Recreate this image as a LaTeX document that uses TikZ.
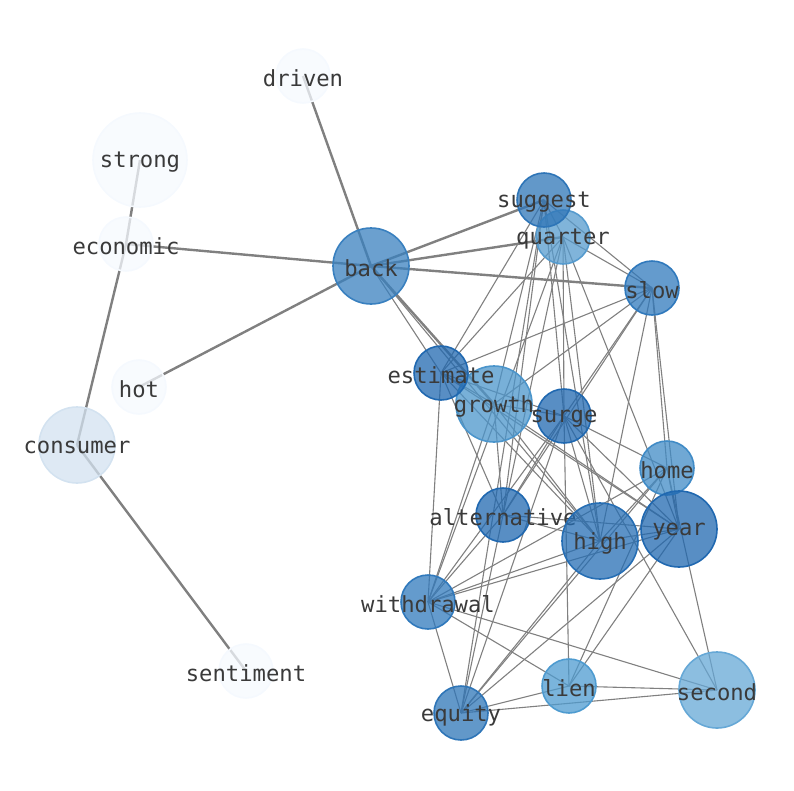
\documentclass[tikz,border=0pt]{standalone}
\usepackage{fontspec}
\newfontfamily\monofont{DejaVu Sans Mono}
\pgfdeclarelayer{bg}
\pgfsetlayers{bg,main}
\definecolor{txt}{RGB}{58,58,58}
\definecolor{edgec}{RGB}{128,128,128}
\definecolor{cpale}{RGB}{245,249,254}
\definecolor{cconsumer}{RGB}{211,226,240}
\definecolor{cback}{RGB}{57,128,191}
\definecolor{cdark}{RGB}{32,104,176}
\definecolor{csuggest}{RGB}{46,117,183}
\definecolor{cslow}{RGB}{48,121,188}
\definecolor{chigh}{RGB}{38,110,180}
\definecolor{chome}{RGB}{64,139,198}
\definecolor{cquarter}{RGB}{86,155,206}
\definecolor{cgrowth}{RGB}{75,149,203}
\definecolor{clien}{RGB}{78,155,208}
\definecolor{csecond}{RGB}{102,168,214}
\tikzset{
  wnode/.style n args={3}{circle, inner sep=0pt, minimum size=#1, fill=#2, draw=#2,
    fill opacity=0.75, line width=1.6pt,
    label={[font=\monofont\fontsize{22.2}{24}\selectfont, text=txt, text opacity=1, inner sep=0pt, yshift=-2.5pt]center:#3}},
  thick edge/.style={draw=edgec, line width=2.4pt},
  thin edge/.style={draw=edgec, line width=1.1pt},
}
\begin{document}
\begin{tikzpicture}[x=1pt,y=-1pt]
\useasboundingbox (0,0) rectangle (794,790);
% nodes
\node[wnode={54}{cpale}{driven}] (driven) at (303,76) {};
\node[wnode={94}{cpale}{strong}] (strong) at (140,160) {};
\node[wnode={54}{cpale}{economic}] (economic) at (126,244) {};
\node[wnode={76}{cback}{back}] (back) at (371,266) {};
\node[wnode={54}{cquarter}{quarter}] (quarter) at (563,237) {};
\node[wnode={54}{csuggest}{suggest}] (suggest) at (544,200) {};
\node[wnode={54}{cslow}{slow}] (slow) at (652,288) {};
\node[wnode={54}{cpale}{hot}] (hot) at (139,387) {};
\node[wnode={76}{cgrowth}{growth}] (growth) at (494,404) {};
\node[wnode={54}{cdark}{estimate}] (estimate) at (441,373) {};
\node[wnode={54}{cdark}{surge}] (surge) at (564,416) {};
\node[wnode={76}{cconsumer}{consumer}] (consumer) at (77,445) {};
\node[wnode={54}{chome}{home}] (home) at (667,468) {};
\node[wnode={54}{cdark}{alternative}] (alternative) at (503,515) {};
\node[wnode={76}{chigh}{high}] (high) at (600,541) {};
\node[wnode={76}{cdark}{year}] (year) at (679,529) {};
\node[wnode={54}{cslow}{withdrawal}] (withdrawal) at (428,602) {};
\node[wnode={54}{cpale}{sentiment}] (sentiment) at (246,671) {};
\node[wnode={54}{clien}{lien}] (lien) at (569,686) {};
\node[wnode={76}{csecond}{second}] (second) at (717,690) {};
\node[wnode={54}{csuggest}{equity}] (equity) at (461,713) {};
% edges
\begin{pgfonlayer}{bg}
\foreach \a/\b in {driven/back, economic/back, hot/back, back/suggest, back/quarter, back/slow, back/growth,
  strong/economic, economic/consumer, consumer/sentiment}
  \draw[thick edge] (\a.center) -- (\b.center);
\foreach \a/\b in {back/estimate, back/high,
  suggest/quarter, suggest/slow, suggest/estimate, suggest/alternative, suggest/equity, suggest/surge, suggest/high, suggest/growth,
  quarter/slow, quarter/estimate, quarter/alternative, quarter/surge, quarter/high, quarter/year, quarter/withdrawal,
  slow/estimate, slow/growth, slow/surge, slow/high, slow/year, slow/alternative, slow/home,
  estimate/growth, estimate/surge, estimate/alternative, estimate/high, estimate/year, estimate/withdrawal,
  growth/surge, growth/alternative, growth/high, growth/year, growth/withdrawal,
  surge/alternative, surge/withdrawal, surge/equity, surge/high, surge/year, surge/home, surge/lien, surge/second,
  home/withdrawal, home/equity, home/high, home/year, home/lien, home/second,
  alternative/high, alternative/year, alternative/withdrawal, alternative/equity,
  high/year, high/withdrawal, high/equity,
  year/withdrawal, year/equity, year/lien,
  withdrawal/equity, withdrawal/lien, withdrawal/second,
  equity/lien, equity/second, lien/second}
  \draw[thin edge] (\a.center) -- (\b.center);
\end{pgfonlayer}
\end{tikzpicture}
\end{document}
